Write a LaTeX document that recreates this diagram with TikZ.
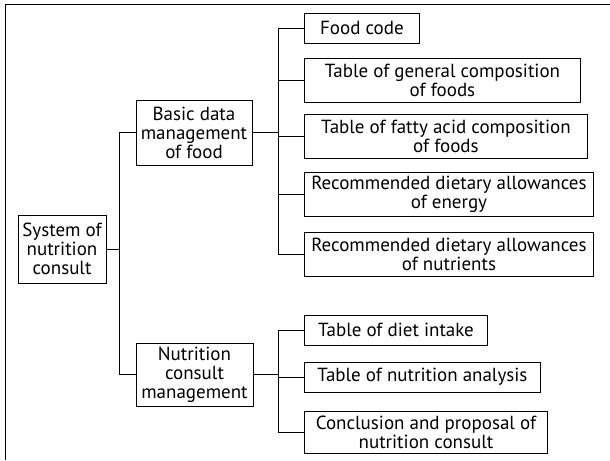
\documentclass[tikz,border=0pt]{standalone}
\usepackage{fontspec}
\setmainfont{PT Sans}
\usetikzlibrary{positioning}

\begin{document}
\begin{tikzpicture}[
    x=0.025cm, y=-0.025cm,
    every node/.style={font=\fontsize{13.5}{13.5}\selectfont},
    box/.style={rectangle, draw, line width=0.6pt, inner sep=1pt, align=center},
    onerow/.style={box, minimum height=0.75cm, anchor=west},
    tworow/.style={box, minimum height=1.1cm, anchor=west},
    link/.style={line width=0.6pt}
]
\useasboundingbox (0,0) rectangle (610,460);

% ---- outer frame ----
\draw[link] (5,460) -- (5,4) -- (610,4);

% ---- root and the two subsystems ----
\node[box, minimum width=2.2cm, minimum height=1.7cm] (sys) at (62,249) {System of\\nutrition\\consult};
\node[box, minimum width=2.9cm, minimum height=1.625cm] (basic) at (194,132.5) {Basic data\\management\\of food};
\node[box, minimum width=2.925cm, minimum height=1.575cm] (nut) at (194.5,374.5) {Nutrition\\consult\\management};

% ---- basic data leaves ----
\node[onerow, minimum width=2.875cm] (b1) at (304,28) {Food code};
\node[tworow, minimum width=6.9cm] (b2) at (304,80) {Table of general composition\\of foods};
\node[tworow, minimum width=7.075cm] (b3) at (304,136.5) {Table of fatty acid composition\\of foods};
\node[tworow, minimum width=7.225cm] (b4) at (304,194.5) {Recommended dietary allowances\\of energy};
\node[tworow, minimum width=7.225cm] (b5) at (304,254) {Recommended dietary allowances\\of nutrients};

% ---- nutrition consult leaves ----
\node[onerow, minimum width=4.575cm] (n1) at (304,330) {Table of diet intake};
\node[onerow, minimum width=5.9cm] (n2) at (304,377) {Table of nutrition analysis};
\node[tworow, minimum width=6.075cm, minimum height=1.05cm] (n3) at (304,432) {Conclusion and proposal of\\nutrition consult};

% ---- connectors ----
\coordinate (trunk) at (119,249);
\coordinate (bus1) at (278,132.5);
\coordinate (bus2) at (278,374.5);

\draw[link] (sys.east) -- (trunk);
\draw[link] (trunk) |- (basic.west);
\draw[link] (trunk) |- (nut.west);

\draw[link] (basic.east) -- (bus1);
\draw[link] (bus1) |- (b1.west);
\draw[link] (bus1) |- (b2.west);
\draw[link] (bus1) |- (b3.west);
\draw[link] (bus1) |- (b4.west);
\draw[link] (bus1) |- (b5.west);

\draw[link] (nut.east) -- (bus2);
\draw[link] (bus2) |- (n1.west);
\draw[link] (bus2) |- (n2.west);
\draw[link] (bus2) |- (n3.west);

\end{tikzpicture}
\end{document}
